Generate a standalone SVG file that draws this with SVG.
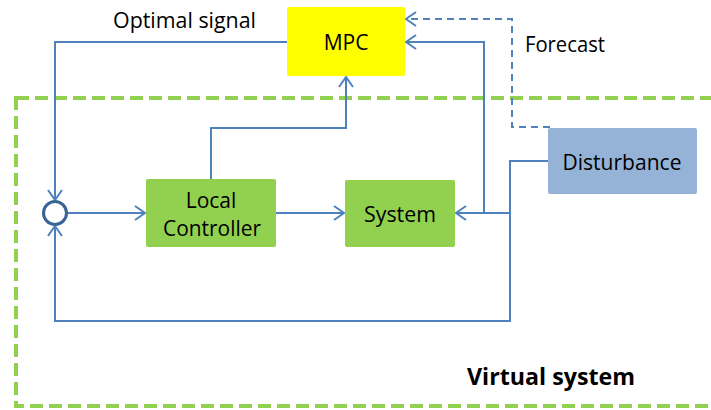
<svg xmlns="http://www.w3.org/2000/svg" width="711" height="410" viewBox="0 0 711 410">
<defs>
<marker id="arr" markerUnits="userSpaceOnUse" markerWidth="14" markerHeight="16" viewBox="0 0 14 16" refX="12" refY="8" orient="auto">
<path d="M2,1 L12,8 L2,15" fill="none" stroke="#4f81bd" stroke-width="2"/>
</marker>
<style>
.ln{fill:none;stroke:#4f81bd;stroke-width:2}
.dash{fill:none;stroke:#4f81bd;stroke-width:2;stroke-dasharray:7,5}
.frame{fill:none;stroke:#92d050;stroke-width:4;stroke-dasharray:13,6}
.t{font-family:"Open Sans","Liberation Sans",sans-serif;font-size:21px;fill:#000}
.b{font-family:"Open Sans","Liberation Sans",sans-serif;font-size:23px;font-weight:bold;fill:#000}
.green{fill:#92d050}
</style>
</defs>
<rect width="711" height="410" fill="#fff"/>
<g id="frame">
<rect class="frame" x="16" y="98" width="705" height="308"/>
<text class="b" x="467" y="385" textLength="168" lengthAdjust="spacingAndGlyphs">Virtual system</text>
</g>
<g id="connectors">
<path class="ln" d="M287,42 H55 V200" marker-end="url(#arr)"/>
<path class="ln" d="M67,213 H145" marker-end="url(#arr)"/>
<path class="ln" d="M276,213 H344" marker-end="url(#arr)"/>
<path class="ln" d="M211,179 V128 H346 V77" marker-end="url(#arr)"/>
<path class="ln" d="M548,161 H510 V213 H456" marker-end="url(#arr)"/>
<path class="ln" d="M484,213 V42 H406" marker-end="url(#arr)"/>
<path class="ln" d="M510,213 V321 H55 V226" marker-end="url(#arr)"/>
<path class="dash" d="M550,127 H512 V19 H406" marker-end="url(#arr)"/>
</g>
<g id="sum">
<circle cx="55" cy="213" r="11.5" fill="#fff" stroke="#3a6494" stroke-width="3"/>
</g>
<g id="mpc">
<rect x="287" y="7" width="118" height="69" rx="2" fill="#ffff00"/>
<text class="t" x="346" y="50" text-anchor="middle">MPC</text>
</g>
<g id="optimal-label">
<text class="t" x="113" y="28" textLength="143" lengthAdjust="spacingAndGlyphs">Optimal signal</text>
</g>
<g id="forecast-label">
<text class="t" x="525" y="52" textLength="80" lengthAdjust="spacingAndGlyphs">Forecast</text>
</g>
<g id="local-controller">
<rect class="green" x="146" y="179" width="130" height="68" rx="2"/>
<text class="t" x="211" y="208" text-anchor="middle">Local</text>
<text class="t" x="212" y="236" text-anchor="middle" textLength="98" lengthAdjust="spacingAndGlyphs">Controller</text>
</g>
<g id="system">
<rect class="green" x="345" y="180" width="110" height="67" rx="2"/>
<text class="t" x="400" y="222" text-anchor="middle" textLength="72" lengthAdjust="spacingAndGlyphs">System</text>
</g>
<g id="disturbance">
<rect x="548" y="128" width="149" height="66" rx="2" fill="#95b3d7"/>
<text class="t" x="622" y="170" text-anchor="middle" textLength="119" lengthAdjust="spacingAndGlyphs">Disturbance</text>
</g>
</svg>
